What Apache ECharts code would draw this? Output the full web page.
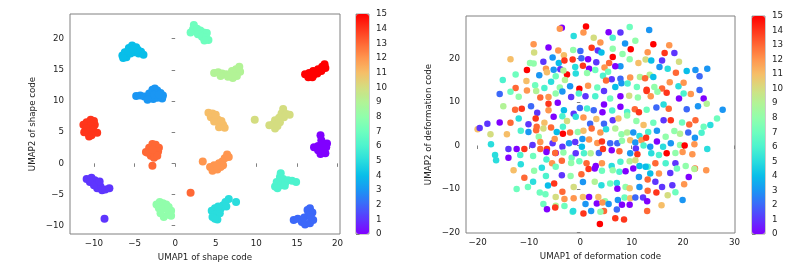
<!DOCTYPE html>
<html><head><meta charset="utf-8">
<script src="https://cdn.jsdelivr.net/npm/echarts@6/dist/echarts.min.js"></script>
<style>html,body{margin:0;padding:0;background:#fff}#c{width:797px;height:280px}</style>
</head><body><div id="c"></div>
<script>
// ---------- data ----------
const shapeXTicks = [-10, -5, 0, 5, 10, 15, 20];
const shapeYTicks = [-10, -5, 0, 5, 10, 15, 20];
const deformXTicks = [-20, -10, 0, 10, 20, 30];
const deformYTicks = [-20, -10, 0, 10, 20];

// UMAP of shape code: [x, y, class]
const shapePoints = [
 [17.9,4.5,0],[18.0,3.7,0],[17.1,2.6,0],[17.6,2.8,0],[18.2,2.8,0],[18.6,2.6,0],[17.6,2.1,0],[18.1,2.0,0],[18.5,1.6,0],[17.9,1.5,0],[18.7,3.2,0],
 [-10.9,-2.5,1],[-10.3,-2.3,1],[-9.9,-2.7,1],[-10.5,-3.0,1],[-9.6,-3.2,1],[-9.2,-3.7,1],[-9.6,-4.0,1],[-9.0,-4.3,1],[-8.6,-4.2,1],[-8.1,-4.0,1],[-10.0,-3.5,1],[-9.3,-2.9,1],[-8.7,-8.9,1],
 [14.6,-9.1,2],[15.1,-8.9,2],[15.6,-9.4,2],[15.9,-8.7,2],[16.3,-7.5,2],[16.6,-7.2,2],[16.9,-7.9,2],[16.4,-8.3,2],[16.0,-9.8,2],[16.6,-9.6,2],[17.0,-9.1,2],[16.7,-8.6,2],
 [-4.8,10.8,3],[-4.3,10.9,3],[-3.8,10.7,3],[-3.3,10.6,3],[-3.2,11.2,3],[-2.8,11.8,3],[-2.5,12.0,3],[-2.2,11.7,3],[-1.8,11.3,3],[-1.5,10.9,3],[-1.6,10.4,3],[-2.2,10.5,3],[-2.7,10.3,3],[-3.4,10.2,3],[-2.6,11.0,3],[-2.0,11.0,3],
 [-6.5,17.3,4],[-6.0,17.0,4],[-6.2,17.8,4],[-5.7,18.5,4],[-5.3,18.9,4],[-4.8,18.6,4],[-5.0,17.8,4],[-5.5,17.6,4],[-4.5,17.6,4],[-4.2,17.9,4],[-3.9,17.4,4],[-5.8,18.0,4],[-4.6,18.2,4],[-5.2,18.3,4],[-6.4,16.9,4],
 [4.5,-7.6,5],[4.9,-7.2,5],[5.0,-8.2,5],[4.6,-8.6,5],[5.2,-9.0,5],[5.5,-8.0,5],[5.6,-7.3,5],[5.9,-6.7,5],[6.2,-6.2,5],[6.6,-5.7,5],[6.3,-6.9,5],[5.3,-6.9,5],[4.9,-8.9,5],[7.5,-6.2,5],
 [12.3,-3.7,6],[12.5,-3.0,6],[12.9,-2.2,6],[13.0,-1.6,6],[13.3,-2.5,6],[13.0,-3.5,6],[13.6,-3.0,6],[13.9,-2.7,6],[14.4,-2.8,6],[14.9,-3.0,6],[12.6,-4.0,6],[13.5,-3.6,6],
 [2.3,22.2,7],[2.2,21.5,7],[2.7,21.6,7],[3.1,21.3,7],[3.5,21.0,7],[3.9,20.9,7],[2.8,20.7,7],[3.3,20.3,7],[3.8,20.2,7],[4.1,19.8,7],[3.6,19.7,7],[1.9,21.0,7],
 [-2.3,-6.6,8],[-1.9,-6.2,8],[-1.5,-6.4,8],[-1.1,-6.6,8],[-2.0,-7.2,8],[-1.4,-7.2,8],[-0.8,-7.0,8],[-0.5,-7.6,8],[-0.9,-8.2,8],[-1.4,-8.6,8],[-1.8,-8.0,8],[-0.5,-8.4,8],
 [4.8,14.5,9],[5.3,14.6,9],[5.8,14.4,9],[6.3,14.3,9],[6.8,14.2,9],[7.0,14.8,9],[7.5,15.1,9],[7.9,15.5,9],[8.0,14.7,9],[7.6,14.0,9],[7.1,13.7,9],[6.5,13.9,9],[5.6,14.0,9],
 [11.6,6.1,10],[12.1,6.3,10],[12.6,6.0,10],[12.3,6.9,10],[12.8,7.3,10],[13.1,8.0,10],[13.3,8.7,10],[13.7,7.9,10],[14.1,7.8,10],[12.9,6.6,10],[12.3,5.6,10],[13.4,7.4,10],[9.8,7.0,10],
 [4.1,8.1,11],[4.6,8.0,11],[4.4,7.4,11],[4.9,7.3,11],[5.3,7.0,11],[4.8,6.7,11],[5.5,6.4,11],[5.9,6.2,11],[5.4,5.8,11],[6.1,5.7,11],[5.0,7.8,11],[5.7,6.8,11],
 [4.3,-0.6,12],[4.8,-0.3,12],[4.6,-1.2,12],[5.2,-1.0,12],[5.6,-0.6,12],[5.4,0.0,12],[5.8,0.3,12],[6.1,0.8,12],[6.4,1.4,12],[6.6,1.0,12],[5.9,-0.3,12],[5.1,-0.4,12],[3.4,0.3,12],
 [-3.6,1.8,13],[-3.2,2.5,13],[-2.8,3.1,13],[-2.4,3.0,13],[-2.0,2.5,13],[-2.1,1.9,13],[-2.5,1.5,13],[-3.0,1.2,13],[-2.6,0.9,13],[-2.2,1.2,13],[-3.4,1.7,13],[-2.8,2.2,13],[-2.8,-0.4,13],[1.9,-4.7,13],
 [-11.3,6.2,14],[-10.9,6.6,14],[-10.4,7.0,14],[-10.0,6.8,14],[-9.9,6.2,14],[-10.4,6.0,14],[-11.0,5.6,14],[-10.6,5.2,14],[-10.1,5.4,14],[-9.6,4.9,14],[-10.3,4.5,14],[-10.6,4.3,14],[-11.2,5.0,14],
 [16.0,14.3,15],[16.4,13.8,15],[16.5,14.5,15],[17.0,14.1,15],[17.0,14.8,15],[17.5,14.4,15],[17.6,15.1,15],[18.0,14.8,15],[18.1,15.5,15],[18.5,15.3,15],[18.4,15.9,15],[16.9,13.8,15]
];

// UMAP of deformation code: [x, y, class]
const deformPoints = [
 [-3.6,27.0,0],[1.1,27.3,15],[9.6,27.2,7],[5.5,26.0,0],[7.8,25.9,1],[13.4,26.5,3],[0.6,25.9,12],[-1.3,25.1,5],[2.6,24.7,10],[6.3,24.7,6],
 [10.7,24.0,8],[3.9,23.6,12],[8.7,23.4,3],[14.2,23.2,15],[17.3,23.0,12],[-9.1,23.2,12],[-4.0,26.8,12],[-6.2,22.5,0],[-4.3,21.8,12],[-9.0,21.3,10],
 [-3.2,20.7,11],[-1.4,21.9,8],[0.0,21.7,2],[2.2,22.4,14],[3.4,21.8,1],[4.1,21.3,4],[6.3,22.2,8],[8.2,21.0,8],[9.8,22.1,15],[13.1,21.4,12],
 [18.3,21.2,1],[16.4,21.2,14],[-13.6,19.8,11],[-7.2,19.2,1],[-5.4,20.2,3],[-4.2,18.9,4],[-3.1,19.5,14],[-1.5,19.7,14],[0.2,20.0,2],[1.5,19.8,0],
 [3.1,19.1,1],[5.6,18.9,13],[6.3,20.3,15],[7.8,18.2,3],[9.6,19.8,8],[11.3,18.9,11],[12.7,19.7,10],[13.8,19.5,4],[15.9,19.5,1],[19.2,19.2,10],
 [-9.1,18.8,8],[-6.7,17.6,12],[-5.2,17.4,3],[-3.9,17.5,1],[-2.6,16.3,15],[-1.0,18.0,5],[0.5,18.3,14],[1.7,17.6,0],[4.7,17.9,12],[6.8,18.2,0],
 [5.4,16.9,7],[-15.1,15.0,6],[-12.6,16.3,7],[-10.4,17.3,15],[-9.8,18.9,8],[-8.0,16.1,3],[-6.5,16.8,11],[-4.8,15.9,7],[-3.3,17.2,9],[-0.9,16.5,5],
 [1.3,16.6,8],[2.9,17.3,7],[4.4,16.0,6],[6.1,15.2,1],[7.8,15.3,2],[9.7,15.6,12],[11.6,15.7,9],[13.5,16.2,9],[14.2,15.7,4],[15.4,18.0,3],
 [17.0,17.6,5],[18.6,16.7,13],[20.7,17.1,4],[22.4,17.3,3],[23.2,15.9,2],[24.7,17.6,3],[-12.6,13.2,13],[-10.5,14.8,11],[-8.8,13.8,7],[-7.0,13.2,6],
 [-5.7,14.6,5],[-4.0,13.3,8],[-3.0,15.0,9],[-2.0,13.6,3],[-0.2,13.0,15],[1.5,13.7,12],[3.3,13.3,7],[5.0,14.9,13],[6.8,13.4,4],[8.0,14.3,3],
 [9.2,14.2,6],[11.0,13.4,7],[12.6,15.4,13],[12.9,12.8,14],[14.4,13.4,8],[15.9,13.1,13],[17.4,14.5,12],[19.1,13.6,5],[20.1,14.4,12],[-15.7,11.8,2],
 [-13.6,12.3,7],[-12.0,11.2,8],[-10.4,12.6,12],[-8.6,12.5,9],[-7.8,11.0,13],[-6.2,11.1,12],[-4.8,11.9,8],[-3.5,12.4,3],[-1.8,11.1,1],[-0.3,11.9,6],
 [1.0,11.3,1],[2.9,11.3,6],[4.6,12.5,1],[5.8,10.8,7],[7.8,11.3,0],[9.5,11.4,10],[11.2,11.0,8],[12.9,12.5,14],[13.7,11.3,12],[15.0,12.3,8],
 [16.8,12.1,14],[19.2,10.8,0],[20.1,11.9,6],[21.5,11.8,12],[23.2,12.7,2],[24.0,10.8,0],[-15.0,9.0,9],[-12.7,8.2,13],[-11.4,8.4,14],[-9.6,9.0,2],
 [-8.4,7.5,1],[-6.2,9.6,14],[-6.2,8.1,12],[-4.4,9.8,0],[-3.2,8.1,4],[-1.3,7.3,1],[-0.1,8.6,2],[1.3,8.5,6],[2.6,8.1,2],[4.6,9.4,0],
 [6.2,8.0,6],[7.8,8.9,0],[9.1,7.7,6],[10.6,8.3,13],[11.4,7.6,14],[12.9,8.2,7],[14.8,8.7,2],[16.2,9.4,5],[17.2,8.4,13],[20.7,8.3,2],
 [22.9,9.0,3],[24.6,9.6,9],[27.7,8.2,3],[-20.0,3.7,11],[-19.6,4.0,1],[-18.1,5.0,1],[-15.7,5.3,0],[-13.6,5.2,13],[-12.0,6.2,5],[-10.1,4.9,1],
 [-8.7,6.2,14],[-8.5,4.3,13],[-7.0,5.2,11],[-5.2,6.6,0],[-3.5,6.7,6],[-2.6,5.6,10],[-0.9,6.6,5],[0.6,6.4,12],[1.9,5.0,2],[3.1,6.1,11],
 [4.3,7.6,0],[4.6,5.0,2],[6.3,5.8,1],[7.4,6.2,11],[9.1,6.9,8],[10.9,5.6,8],[12.3,4.7,11],[14.2,5.2,7],[16.2,5.8,1],[17.6,5.8,14],
 [19.8,5.3,7],[21.2,4.8,13],[22.4,5.8,13],[24.0,4.3,7],[25.3,4.7,5],[26.6,6.2,7],[-17.5,2.6,10],[-14.3,2.6,11],[-11.6,3.4,6],[-10.1,3.1,3],
 [-8.6,3.5,13],[-8.1,2.0,8],[-7.2,3.9,10],[-5.7,4.1,13],[-4.6,3.1,4],[-3.4,4.3,6],[-2.0,3.0,13],[-0.5,3.1,8],[0.6,3.4,11],[2.2,3.9,13],
 [3.9,3.0,12],[5.0,3.7,5],[6.8,3.9,9],[8.0,2.6,8],[9.1,3.0,9],[10.3,3.0,3],[11.5,2.2,5],[13.2,3.1,6],[14.9,3.4,3],[16.6,2.0,8],
 [18.3,3.3,8],[19.4,2.7,9],[21.0,3.0,2],[22.3,1.8,3],[23.6,2.9,6],[-17.4,0.3,5],[-14.0,-0.8,1],[-12.4,-0.8,0],[-10.9,-0.8,14],[-9.3,0.1,1],
 [-7.8,0.8,12],[-6.5,-0.8,14],[-5.4,0.5,1],[-5.0,1.5,12],[-3.4,2.7,15],[-3.5,-0.3,1],[-4.8,-1.7,0],[-2.2,0.5,3],[-1.0,0.8,1],[0.4,1.5,3],
 [0.3,-0.3,4],[1.7,1.4,12],[3.3,0.6,12],[4.2,0.9,14],[5.8,0.5,2],[7.2,0.5,2],[8.1,1.1,8],[9.7,1.2,11],[10.7,0.7,3],[11.9,1.2,12],
 [12.8,1.8,14],[13.6,-0.3,3],[14.9,0.9,0],[16.1,-0.3,5],[17.6,0.5,3],[19.4,0.1,8],[20.3,0.0,15],[22.2,0.3,12],[24.7,-0.8,5],[-16.6,-2.2,5],
 [-14.0,-2.8,0],[-11.7,-2.2,6],[-9.2,-2.4,7],[-7.8,-0.8,13],[-6.6,-1.5,0],[-4.9,-1.7,13],[-3.3,-1.6,8],[-1.7,-2.8,7],[-0.9,-1.8,1],[0.7,-1.8,6],
 [2.0,-1.8,9],[3.6,-1.7,2],[4.4,-0.8,14],[6.1,-1.1,0],[7.6,-1.3,13],[9.7,-1.8,3],[10.8,-0.7,1],[11.1,-2.0,14],[12.3,0.0,6],[13.8,-1.8,5],
 [15.3,-2.2,6],[16.8,-1.8,15],[18.5,-1.7,8],[19.9,-1.5,12],[21.8,-2.0,12],[-16.4,-3.4,5],[-11.6,-4.3,5],[-6.6,-3.2,6],[-5.5,-4.1,12],[-3.6,-3.5,13],
 [-1.8,-4.0,8],[-0.2,-3.6,7],[1.2,-4.1,13],[3.0,-4.7,0],[4.2,-4.1,12],[6.1,-4.7,5],[7.8,-3.7,6],[9.6,-3.6,9],[10.7,-3.4,10],[11.5,-4.7,4],
 [13.1,-4.9,6],[14.6,-4.1,13],[16.6,-4.1,6],[18.5,-4.1,1],[20.5,-4.7,8],[22.3,-5.3,13],[24.5,-5.7,12],[-13.0,-5.7,11],[-10.9,-7.4,13],[-9.0,-5.8,8],
 [-7.5,-5.1,5],[-6.7,-7.0,6],[-4.8,-4.9,7],[-3.6,-6.8,1],[-1.9,-7.0,8],[0.2,-6.6,13],[1.6,-5.4,14],[2.8,-5.3,0],[4.2,-5.8,7],[6.3,-5.7,8],
 [7.6,-6.0,6],[8.8,-5.9,0],[10.3,-5.3,0],[11.4,-7.2,3],[12.7,-4.9,4],[13.6,-6.4,4],[15.3,-6.4,12],[17.5,-6.3,1],[18.8,-5.3,7],[21.1,-7.2,0],
 [22.2,-5.4,9],[-12.4,-10.0,7],[-10.2,-9.5,7],[-9.2,-8.3,5],[-7.9,-10.8,7],[-6.8,-11.2,7],[-6.3,-9.2,4],[-5.1,-8.7,14],[-3.5,-10.6,13],[-1.3,-9.5,10],
 [0.5,-8.4,3],[2.8,-8.3,9],[4.1,-9.1,5],[5.8,-8.7,7],[7.1,-8.6,5],[7.2,-9.9,0],[8.8,-9.5,8],[9.6,-9.8,11],[11.5,-9.5,3],[13.1,-7.8,13],
 [13.1,-10.4,13],[14.6,-8.3,1],[15.9,-9.5,1],[17.9,-9.1,1],[18.5,-10.7,7],[20.2,-8.9,12],[-4.8,-11.8,10],[-3.1,-12.3,12],[-1.3,-12.1,12],[0.5,-11.8,11],
 [1.7,-11.8,0],[3.5,-11.8,11],[4.8,-12.8,8],[7.3,-12.5,3],[8.6,-11.9,7],[9.7,-12.1,11],[12.2,-11.9,1],[14.8,-10.8,14],[17.0,-11.4,10],[19.9,-12.5,3],
 [-7.2,-13.4,7],[-4.8,-13.8,9],[-3.1,-13.9,7],[-1.5,-15.2,6],[1.0,-13.4,3],[3.2,-13.3,0],[4.3,-13.1,12],[4.6,-15.0,13],[5.5,-13.4,3],[7.1,-14.7,2],
 [8.1,-13.6,0],[9.6,-13.6,0],[10.7,-11.9,2],[13.0,-12.8,0],[15.8,-13.7,11],[-6.5,-14.6,0],[-4.9,-14.2,14],[-1.4,-15.0,5],[0.6,-15.6,14],[2.1,-15.0,3],
 [3.9,-15.2,8],[6.8,-16.7,14],[8.5,-17.0,14],[13.0,-15.0,13],[3.8,-18.0,15]
];

// matplotlib "rainbow" colormap sampled at the 16 class values
const rainbow = ['#8000ff','#5e35fe','#3c68f9','#1a96f3','#08bee9','#2adddd','#4df3ce','#6efebe',
                 '#91feab','#b2f396','#d4dd80','#f6be68','#ff964f','#ff6835','#ff351b','#ff0000'];

// ---------- chart ----------
const FONT = 'DejaVu Sans';
const TXT = '#222';
const LINE = '#808080';
const minus = v => String(v).replace('-', '\u2212');

function valueAxis(min, max, ticks, name, gap, isY) {
  return {
    type: 'value', min: min, max: max,
    name: name, nameLocation: 'middle', nameGap: gap,
    nameTextStyle: { fontFamily: FONT, fontSize: 8.7, color: TXT },
    axisLine: { show: false },
    axisTick: { show: true, inside: false, length: 3.5, customValues: ticks, lineStyle: { color: LINE, width: 1 } },
    axisLabel: { customValues: ticks, formatter: minus, fontFamily: FONT, fontSize: 8.7, color: TXT, margin: isY ? 6 : 5.5 },
    splitLine: { show: false }
  };
}
function barAxis() {
  return {
    type: 'value', min: 0, max: 15, interval: 1, position: 'right',
    axisLine: { show: false },
    axisTick: { show: true, inside: false, length: 3.5, lineStyle: { color: LINE, width: 1 } },
    axisLabel: { fontFamily: FONT, fontSize: 8.7, color: TXT, margin: 7 },
    splitLine: { show: false }
  };
}
function hiddenX(i) {
  return { type: 'value', gridIndex: i, min: 0, max: 1, show: false };
}

const chart = echarts.init(document.getElementById('c'), null, { renderer: 'canvas' });
chart.setOption({
  animation: false,
  backgroundColor: '#fff',
  grid: [
    { left: 70, top: 14, width: 270, height: 220, show: true, borderColor: LINE, borderWidth: 1, backgroundColor: 'transparent' },
    { left: 466, top: 16, width: 269, height: 217, show: true, borderColor: LINE, borderWidth: 1, backgroundColor: 'transparent' },
    { left: 356, top: 14, width: 13, height: 220, show: true, borderColor: LINE, borderWidth: 0.8, backgroundColor: 'transparent' },
    { left: 752, top: 16, width: 13, height: 218, show: true, borderColor: LINE, borderWidth: 0.8, backgroundColor: 'transparent' }
  ],
  xAxis: [
    Object.assign(valueAxis(-12.95, 20.3, shapeXTicks, 'UMAP1 of shape code', 18, false), { gridIndex: 0 }),
    Object.assign(valueAxis(-22.26, 30.1, deformXTicks, 'UMAP1 of deformation code', 18, false), { gridIndex: 1 }),
    hiddenX(2), hiddenX(3)
  ],
  yAxis: [
    Object.assign(valueAxis(-11.33, 23.95, shapeYTicks, 'UMAP2 of shape code', 33, true), { gridIndex: 0 }),
    Object.assign(valueAxis(-20.07, 29.7, deformYTicks, 'UMAP2 of deformation code', 33, true), { gridIndex: 1 }),
    Object.assign(barAxis(), { gridIndex: 2 }),
    Object.assign(barAxis(), { gridIndex: 3 })
  ],
  visualMap: [
    { type: 'continuous', seriesIndex: 0, dimension: 2, min: 0, max: 15, inRange: { color: rainbow },
      left: 356, top: 14, itemWidth: 13, itemHeight: 220, padding: 0, calculable: false, text: null, hoverLink: false },
    { type: 'continuous', seriesIndex: 1, dimension: 2, min: 0, max: 15, inRange: { color: rainbow },
      left: 752, top: 16, itemWidth: 13, itemHeight: 218, padding: 0, calculable: false, text: null, hoverLink: false }
  ],
  series: [
    { type: 'scatter', xAxisIndex: 0, yAxisIndex: 0, data: shapePoints, symbolSize: 8, itemStyle: { opacity: 1 } },
    { type: 'scatter', xAxisIndex: 1, yAxisIndex: 1, data: deformPoints, symbolSize: 6.5, itemStyle: { opacity: 1 } }
  ]
});
</script></body></html>
